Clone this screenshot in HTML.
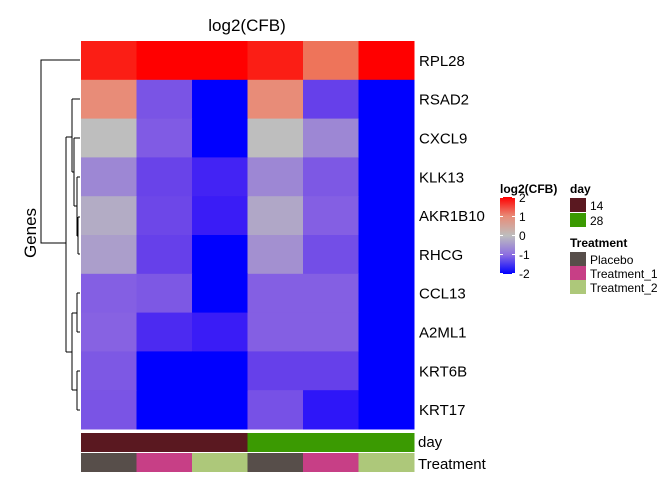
<!DOCTYPE html>
<html><head><meta charset="utf-8"><style>
body{margin:0;background:#fff;}
svg text{font-family:"Liberation Sans",Arial,sans-serif;}
</style></head><body>
<svg id="chart" width="672" height="480" viewBox="0 0 672 480">
<text x="247" y="31" font-size="17" text-anchor="middle">log2(CFB)</text>
<text x="0" y="0" font-size="17" text-anchor="middle" transform="translate(36,233) rotate(-90)">Genes</text>
<g id="cells"></g>
<g id="labels"></g>
<g id="annot"></g>
<g id="dendro" fill="none" stroke="#000" stroke-width="1">
<path d="M80,60H41V243H66M66,137V352M66,137H72M72,99V172M72,99H80M72,172H74M74,138V206M74,138H80M74,206H77M77,177V236M77,177H80M77,236H78M78,217V254M78,217H80M78,254H80M66,352H72M72,313V390M72,313H77M77,293V332M77,293H80M77,332H80M72,390H77M77,371V410M77,371H80M77,410H80"/>
</g>
<g id="legend">
<defs><linearGradient id="grad" x1="0" y1="1" x2="0" y2="0">
<stop offset="0" stop-color="#0000ff"/><stop offset="0.25" stop-color="#8c6ee1"/><stop offset="0.5" stop-color="#bebebe"/><stop offset="0.75" stop-color="#e88c78"/><stop offset="1" stop-color="#ff0000"/></linearGradient></defs>
<text x="500" y="193" font-size="12" font-weight="bold">log2(CFB)</text>
<rect x="500" y="197" width="15" height="77" fill="url(#grad)"/>
<g stroke="#fff" stroke-width="1">
<line x1="500" y1="197.5" x2="503" y2="197.5"/><line x1="512" y1="197.5" x2="515" y2="197.5"/>
<line x1="500" y1="216.5" x2="503" y2="216.5"/><line x1="512" y1="216.5" x2="515" y2="216.5"/>
<line x1="500" y1="235.5" x2="503" y2="235.5"/><line x1="512" y1="235.5" x2="515" y2="235.5"/>
<line x1="500" y1="254.5" x2="503" y2="254.5"/><line x1="512" y1="254.5" x2="515" y2="254.5"/>
<line x1="500" y1="273.5" x2="503" y2="273.5"/><line x1="512" y1="273.5" x2="515" y2="273.5"/>
</g>
<g font-size="12">
<text x="519" y="202">2</text><text x="519" y="221">1</text><text x="519" y="240">0</text><text x="519" y="259">-1</text><text x="519" y="278">-2</text>
</g>
<text x="570" y="193" font-size="12" font-weight="bold">day</text>
<rect x="570" y="198" width="16" height="14" fill="#5a1820"/>
<text x="590" y="210" font-size="12">14</text>
<rect x="570" y="213" width="16" height="14" fill="#3b9a02"/>
<text x="590" y="225" font-size="12">28</text>
<text x="570" y="247" font-size="12" font-weight="bold">Treatment</text>
<rect x="570" y="252" width="16" height="14" fill="#574e4a"/>
<text x="590" y="264" font-size="12">Placebo</text>
<rect x="570" y="266" width="16" height="14" fill="#c73f86"/>
<text x="590" y="278" font-size="12">Treatment_1</text>
<rect x="570" y="280" width="16" height="14" fill="#adc87a"/>
<text x="590" y="292" font-size="12">Treatment_2</text>
</g>
</svg>
<script>
const genes = ["RPL28","RSAD2","CXCL9","KLK13","AKR1B10","RHCG","CCL13","A2ML1","KRT6B","KRT17"];
const samples = ["S1","S2","S3","S4","S5","S6"];
const days = ["14","14","14","28","28","28"];
const treatments = ["Placebo","Treatment_1","Treatment_2","Placebo","Treatment_1","Treatment_2"];
const row0 = [1.85,2.3,2.3,1.85,1.3,2.3];
const row1 = [1.0,-1.2,-2.5,1.0,-1.5,-2.5];
const row2 = [0.0,-1.1,-2.5,0.0,-0.6,-2.5];
const row3 = [-0.6,-1.45,-1.7,-0.6,-1.15,-2.5];
const row4 = [-0.2,-1.4,-1.75,-0.25,-1.05,-2.5];
const row5 = [-0.35,-1.5,-2.5,-0.5,-1.3,-2.5];
const row6 = [-1.05,-1.15,-2.5,-1.05,-1.05,-2.5];
const row7 = [-1.0,-1.65,-1.75,-1.05,-1.05,-2.5];
const row8 = [-1.15,-2.5,-2.5,-1.5,-1.5,-2.5];
const row9 = [-1.2,-2.5,-2.5,-1.25,-1.8,-2.5];
const values = [row0,row1,row2,row3,row4,row5,row6,row7,row8,row9];
const dayColors = {"14":"#5a1820","28":"#3b9a02"};
const trtColors = {"Placebo":"#574e4a","Treatment_1":"#c73f86","Treatment_2":"#adc87a"};

const X0=81,X1=414,Y0=41,Y1=429;
const cw=(X1-X0)/samples.length, rh=(Y1-Y0)/genes.length;
const xPos=i=>X0+i*cw, yPos=j=>Y0+j*rh;
const stops=[[-2,[0,0,255]],[-1.75,[58,28,246]],[-1.5,[102,64,234]],[-1,[135,98,226]],[0,[190,190,190]],[1,[232,140,120]],[1.5,[242,100,70]],[2,[255,0,0]]];
function color(v){
  v=Math.max(-2,Math.min(2,v));
  for(let k=0;k<stops.length-1;k++){
    const [a,ca]=stops[k],[b,cb]=stops[k+1];
    if(v<=b){const t=(v-a)/(b-a);return "rgb("+ca.map((c,i)=>Math.round(c+(cb[i]-c)*t)).join(",")+")";}
  }
  return "rgb(255,0,0)";
}
const NS="http://www.w3.org/2000/svg";
const cells=document.getElementById("cells"),labels=document.getElementById("labels"),annot=document.getElementById("annot");
values.forEach((row,j)=>{
  row.forEach((v,i)=>{
    const r=document.createElementNS(NS,"rect");
    r.setAttribute("x",xPos(i));r.setAttribute("y",yPos(j));
    r.setAttribute("width",cw+0.5);r.setAttribute("height",rh+0.5);
    r.setAttribute("fill",color(v));
    
    
    cells.appendChild(r);
  });
  const t=document.createElementNS(NS,"text");
  t.setAttribute("x",419);t.setAttribute("y",yPos(j)+rh/2+5.5);
  t.setAttribute("font-size","15");t.textContent=genes[j];
  
  
  labels.appendChild(t);
});
samples.forEach((s,i)=>{
  const a=document.createElementNS(NS,"rect");
  a.setAttribute("x",xPos(i));a.setAttribute("y",433);a.setAttribute("width",cw+0.5);a.setAttribute("height",19);
  a.setAttribute("fill",dayColors[days[i]]);
  
  
  annot.appendChild(a);
  const b=document.createElementNS(NS,"rect");
  b.setAttribute("x",xPos(i));b.setAttribute("y",453);b.setAttribute("width",cw+0.5);b.setAttribute("height",19);
  b.setAttribute("fill",trtColors[treatments[i]]);
  
  
  annot.appendChild(b);
});
[["day",447],["Treatment",469]].forEach(([n,y])=>{
  const t=document.createElementNS(NS,"text");
  t.setAttribute("x",418);t.setAttribute("y",y);t.setAttribute("font-size","15");t.textContent=n;
  
  
  annot.appendChild(t);
});
</script>
</body></html>
